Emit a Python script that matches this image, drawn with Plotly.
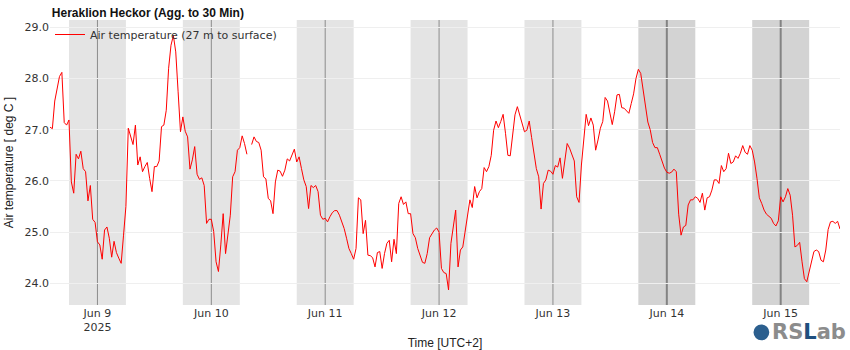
import pandas as pd
import plotly.graph_objects as go

# Air temperature at 27 m, 30-minute means (deg C), one list per calendar day (UTC+2)
temp_jun08 = [  # 14:00 - 23:30
    27.05, 27.02, 27.56, 27.81, 28.04, 28.12, 27.14, 27.09, 27.19, 25.98,
    25.76, 26.52, 26.43, 26.58, 26.24, 26.18, 25.61, 25.91, 25.25, 25.19,
]
temp_jun09 = [
    24.81, 24.75, 24.47, 25.04, 25.10, 24.88, 24.51, 24.82, 24.60, 24.49,
    24.39, 24.94, 25.50, 27.03, 26.86, 26.71, 27.09, 26.31, 26.47, 26.18,
    26.28, 26.36, 26.05, 25.79, 26.28, 26.28, 26.39, 27.06, 27.09, 27.38,
    28.20, 28.65, 28.84, 28.52, 27.74, 26.96, 27.25, 26.97, 26.86, 26.23,
    26.41, 26.67, 26.13, 26.03, 26.06, 25.91, 25.17, 25.25,
]
temp_jun10 = [
    25.25, 25.01, 24.42, 24.23, 24.75, 25.36, 24.58, 24.94, 25.33, 26.08,
    26.18, 26.60, 26.65, 26.88, 26.73, 26.52, None, 26.71, 26.86, 26.77,
    26.75, 26.60, 26.08, 26.04, 25.66, 25.61, 25.36, 25.98, 26.21, 26.19,
    26.09, 26.21, 26.43, 26.39, 26.50, 26.62, 26.37, 26.47, 26.24, 26.02,
    25.89, 25.46, 25.91, 25.87, 25.91, 25.79, 25.33, 25.25,
]
temp_jun11 = [
    25.27, 25.20, 25.30, 25.38, 25.42, 25.42, 25.33, 25.20, 25.07, 24.88,
    24.68, 24.58, 24.47, 24.68, 25.67, 25.63, 24.97, 25.23, 24.55, 24.54,
    24.50, 24.32, 24.60, 24.62, 24.29, 24.58, 24.78, 24.84, 24.42, 24.86,
    24.58, 25.56, 25.69, 25.54, 25.59, 25.36, 25.36, 24.97, 24.89, 24.68,
    24.52, 24.41, 24.39, 24.58, 24.89, 24.97, 25.04, 25.08,
]
temp_jun12 = [
    25.00, 24.29, 24.21, 24.19, 23.87, 24.78, 25.14, 25.43, 24.32, 24.65,
    24.71, 25.01, 25.33, 25.63, 25.48, 25.89, 25.67, 25.79, 25.85, 26.26,
    26.18, 26.28, 26.50, 26.99, 27.17, 27.04, 27.16, 27.30, 26.93, 26.50,
    26.49, 26.90, 27.29, 27.45, 27.29, 27.09, 26.96, 26.99, 27.17, 26.85,
    26.50, 26.24, 26.08, 25.45, 25.95, 26.02, 26.21, 26.19,
]
temp_jun13 = [
    26.13, 26.30, 26.27, 26.45, 26.05, 26.44, 26.73, 26.64, 26.50, 26.39,
    25.69, 25.58, 26.31, 26.83, 27.30, 27.08, 27.23, 27.09, 26.60, 26.80,
    27.03, 27.16, 27.63, 27.56, 27.29, 27.10, 27.35, 27.68, 27.69, 27.43,
    27.42, 27.36, 27.32, 27.51, 27.70, 28.00, 28.18, 28.10, 27.80, 27.45,
    27.15, 27.00, 26.75, 26.65, 26.65, 26.52, 26.36, 26.25,
]
temp_jun14 = [
    26.17, 26.15, 26.17, 26.23, 26.18, 25.35, 24.94, 25.10, 25.13, 25.53,
    25.63, 25.63, 25.69, 25.66, 25.58, 25.76, 25.43, 25.67, 25.69, 25.82,
    26.02, 26.02, 25.95, 26.30, 26.18, 26.24, 26.54, 26.34, 26.37, 26.49,
    26.44, 26.54, 26.69, 26.56, 26.52, 26.69, 26.60, 26.37, 26.05, 25.67,
    25.56, 25.43, 25.35, 25.30, 25.27, 25.17, 25.12, 25.22,
]
temp_jun15 = [  # 00:00 - 12:30
    25.69, 25.59, 25.69, 25.85, 25.72, 25.33, 24.71, 24.74, 24.80, 24.42,
    24.09, 24.03, 24.22, 24.42, 24.62, 24.65, 24.62, 24.45, 24.42, 24.65,
    25.05, 25.20, 25.21, 25.17, 25.21, 25.06,
]

series_start = "2025-06-08 14:00"
series_step = "30min"

# Night periods (18:00 - 06:00) centred on these midnights
light_nights = ["2025-06-09", "2025-06-10", "2025-06-11", "2025-06-12", "2025-06-13"]
dark_nights = ["2025-06-14", "2025-06-15"]

title_text = "Heraklion Heckor (Agg. to 30 Min)"
trace_name = "Air temperature (27 m to surface)"
y_title = "Air temperature [ deg C ]"
x_title = "Time [UTC+2]"

temps = (temp_jun08 + temp_jun09 + temp_jun10 + temp_jun11 + temp_jun12
         + temp_jun13 + temp_jun14 + temp_jun15)
times = pd.date_range(series_start, periods=len(temps), freq=series_step)

fig = go.Figure()
fig.add_trace(go.Scatter(
    x=times, y=temps, mode="lines", name=trace_name,
    line=dict(color="#ff0000", width=1), connectgaps=False,
))

half_night = pd.Timedelta(hours=6)
for nights, fill, lcol, lw in ((light_nights, "#e4e4e4", "#8c8c8c", 1),
                               (dark_nights, "#d3d3d3", "#838383", 2)):
    for d in nights:
        mid = pd.Timestamp(d)
        fig.add_shape(type="rect", xref="x", yref="paper",
                      x0=mid - half_night, x1=mid + half_night, y0=0, y1=1,
                      fillcolor=fill, line_width=0, layer="below")
        fig.add_shape(type="line", xref="x", yref="paper",
                      x0=mid, x1=mid, y0=0, y1=1,
                      line=dict(color=lcol, width=lw), layer="below")

# RSLab badge
fig.add_shape(type="circle", xref="paper", yref="paper",
              x0=0.8905, x1=0.9105, y0=-0.124, y1=-0.068,
              fillcolor="#2c5f8e", line_width=0)
fig.add_annotation(
    xref="paper", yref="paper", x=0.9115, y=-0.096, xanchor="left", yanchor="middle",
    showarrow=False,
    text="<b><span style='color:#8c8c8c'>RS</span><span style='color:#1f4f7e'>L</span>"
         "<span style='color:#8c8c8c'>ab</span></b>",
    font=dict(family="DejaVu Sans", size=21),
)

fig.update_layout(
    width=850, height=350,
    margin=dict(l=50, r=10, t=20, b=45, autoexpand=False),
    paper_bgcolor="white", plot_bgcolor="white",
    title=dict(text=title_text, x=0.061, xanchor="left", y=0.963, yanchor="middle",
               font=dict(family="Liberation Sans", size=12, color="#111", weight="bold")),
    showlegend=True,
    legend=dict(x=0, y=1, xanchor="left", yanchor="top", bgcolor="rgba(0,0,0,0)",
                font=dict(family="DejaVu Sans", size=11, color="#333")),
    font=dict(family="DejaVu Sans", size=11, color="#333"),
)
fig.update_xaxes(
    range=[times[0], times[-1]], showgrid=False, zeroline=False, showline=False,
    tick0="2025-06-09", dtick=86400000, ticks="", automargin=False,
    title=dict(text=x_title, font=dict(family="Liberation Sans", size=12, color="#222"), standoff=6),
    tickfont=dict(family="DejaVu Sans", size=11, color="#333"),
)
fig.update_yaxes(
    range=[23.576, 29.143], dtick=1, tickformat=".1f", showgrid=True, automargin=False,
    gridcolor="#efefef", gridwidth=1, zeroline=False, showline=False, ticks="",
    title=dict(text=y_title, font=dict(family="Liberation Sans", size=12, color="#222"), standoff=8),
    tickfont=dict(family="DejaVu Sans", size=11, color="#333"),
)

fig.write_html("out.html")
